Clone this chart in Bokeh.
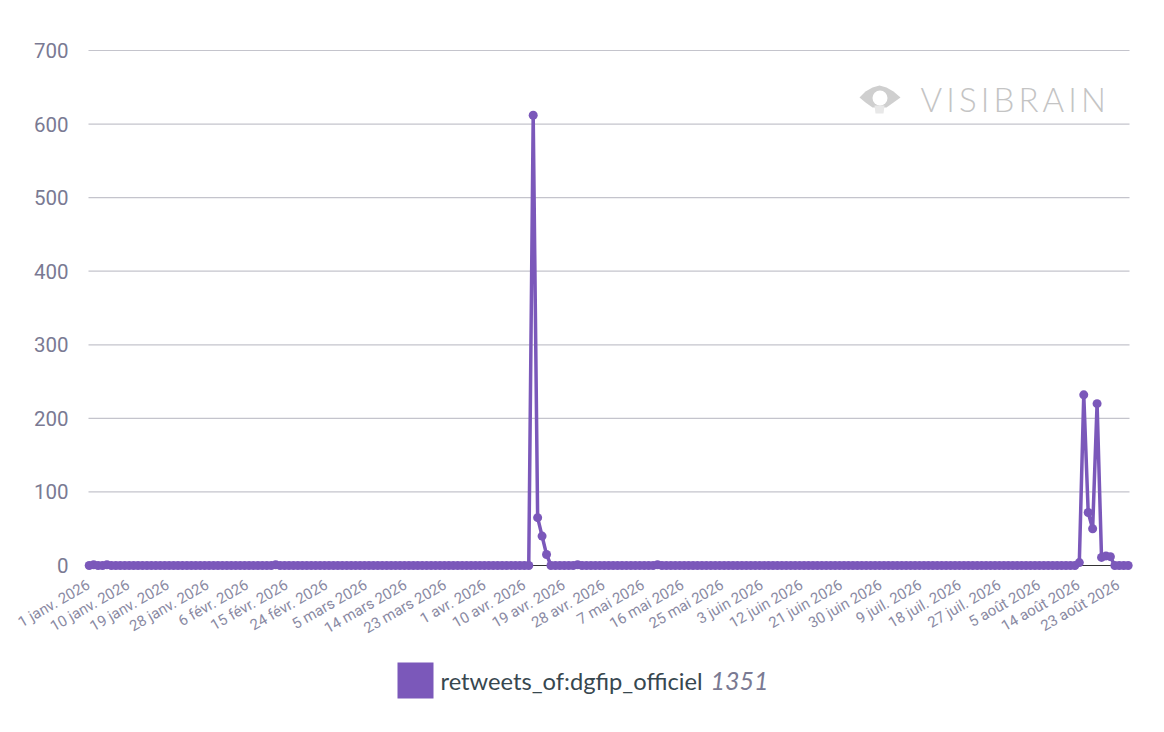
from datetime import date, timedelta
from bokeh.plotting import figure
from bokeh.models import FixedTicker, Range1d, Label, BoxAnnotation
from bokeh.embed import file_html
from bokeh.resources import INLINE

MONTHS = ["janv.", "févr.", "mars", "avr.", "mai", "juin", "juil.", "août"]
N_DAYS = 235
START = date(2026, 1, 1)
days = [START + timedelta(days=i) for i in range(N_DAYS)]
categories = [f"{d.day} {MONTHS[d.month - 1]} {d.year}" for d in days]

# non-zero daily retweet counts, by date index; every other day is 0
spike_days = [1, 4, 42, 100, 101, 102, 103, 110, 128,
              223, 224, 225, 226, 227, 228, 229, 230]
spike_vals = [1, 1, 1, 612, 65, 40, 15, 1, 1,
              4, 232, 72, 50, 220, 11, 13, 12]
values = [0] * N_DAYS
for d, v in zip(spike_days, spike_vals):
    values[d] = v

y_ticks = [0, 100, 200, 300, 400, 500, 600, 700]
series_name = "retweets_of:dgfip_officiel"
series_total = "1351"
brand = "V\u2009I\u2009S\u2009I\u2009B\u2009R\u2009A\u2009I\u2009N"
PURPLE = "#7b58ba"
xs = list(range(N_DAYS))

# canvas size and position of the visible plot area in canvas pixels
W, H = 1148, 716
L, R, T, B = 88, 1129, 50, 565
FIRST_POINT_PX = 88.7
sx = 4.44
sy = (B - T) / 700
x_lo = -FIRST_POINT_PX / sx
x_hi = (W - FIRST_POINT_PX) / sx
y_lo = -(H - B) / sy
y_hi = B / sy


def px_x(px):
    return x_lo + px / sx


def px_y(py):
    return y_hi - py / sy


p = figure(width=W, height=H, output_backend="svg", toolbar_location=None,
           x_range=Range1d(x_lo, x_hi), y_range=Range1d(y_lo, y_hi),
           min_border_left=0, min_border_right=0, min_border_top=0, min_border_bottom=0)
p.outline_line_color = None
p.grid.visible = False

# horizontal grid lines limited to the plot area
p.segment(x0=[px_x(L)] * len(y_ticks), x1=[px_x(R)] * len(y_ticks), y0=y_ticks, y1=y_ticks,
          line_color="#c4c4cc", line_width=1.2, level="underlay")

p.yaxis.fixed_location = px_x(L - 8)
p.yaxis.bounds = (0, 700)
p.yaxis.ticker = FixedTicker(ticks=y_ticks)
p.yaxis.axis_line_color = None
p.yaxis.major_tick_line_color = None
p.yaxis.minor_tick_line_color = None
p.yaxis.major_label_text_font = "Roboto"
p.yaxis.major_label_text_font_size = "20.5px"
p.yaxis.major_label_text_color = "#7a7a93"
p.yaxis.major_label_standoff = 6

# the reference's date labels sit on a slightly tighter pitch than its points
tick_idx = list(range(0, N_DAYS, 9))
tick_pos = [px_x(88.2 + n * 39.6) for n in range(len(tick_idx))]
p.xaxis.fixed_location = 0
p.xaxis.bounds = (px_x(L), px_x(R))
p.xaxis.ticker = FixedTicker(ticks=tick_pos)
p.xaxis.major_label_overrides = {pos: categories[i] for pos, i in zip(tick_pos, tick_idx)}
p.xaxis.major_label_orientation = 0.52
p.xaxis.major_label_text_font = "Roboto"
p.xaxis.major_label_text_font_size = "15px"
p.xaxis.major_label_text_color = "#8a8aa3"
p.xaxis.major_tick_line_color = None
p.xaxis.minor_tick_line_color = None
p.xaxis.axis_line_color = "#333333"
p.xaxis.axis_line_width = 1.2
p.xaxis.major_label_standoff = 12
p.xaxis.level = "underlay"

p.line(xs, values, line_color=PURPLE, line_width=3.5)
p.scatter(xs, values, size=9, fill_color=PURPLE, line_color=PURPLE, line_width=0)

# legend (canvas pixels, y counted from the bottom)
p.add_layout(BoxAnnotation(left=397, right=433, top=H - 662, bottom=H - 698,
                           left_units="screen", right_units="screen",
                           top_units="screen", bottom_units="screen",
                           fill_color=PURPLE, fill_alpha=1, line_color=None))
p.add_layout(Label(x=440, y=H - 680, x_units="screen", y_units="screen", text=series_name,
                   text_font="Lato", text_font_size="23.7px", text_color="#37474f",
                   text_baseline="middle"))
p.add_layout(Label(x=710, y=H - 680, x_units="screen", y_units="screen", text=series_total,
                   text_font="Lato", text_font_style="italic", text_font_size="25px",
                   text_color="#7a7a93", text_baseline="middle"))

# watermark
eye_x = [859, 865, 872, 879, 886, 893, 900, 893, 886, 872, 865]
eye_y = [97, 91, 87, 85, 87, 91, 97, 102, 107, 107, 102]
p.patch([px_x(v) for v in eye_x], [px_y(v) for v in eye_y], fill_color="#cfcfcf",
        line_color=None, level="underlay")
stem_x = [874, 884, 883, 875]
stem_y = [105, 105, 113, 113]
p.patch([px_x(v) for v in stem_x], [px_y(v) for v in stem_y], fill_color="#e8e8e8",
        line_color=None, level="underlay")
p.scatter([px_x(879.5)], [px_y(97.5)], size=15, fill_color="white", line_color=None,
          level="underlay")
p.add_layout(Label(x=920, y=H - 98, x_units="screen", y_units="screen", text=brand,
                   text_font="Lato Light", text_font_size="33px", text_color="#c4c4c4",
                   text_baseline="middle"))

open("out.html", "w").write(file_html(p, INLINE))
